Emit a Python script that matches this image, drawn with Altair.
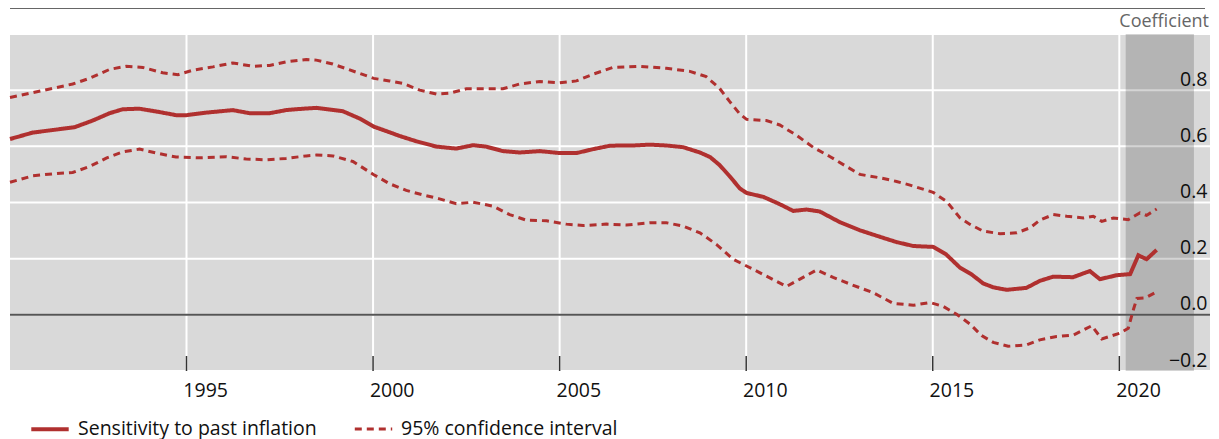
import altair as alt
import pandas as pd

# ---- data ----
mid_years = [1990.27, 1990.88, 1991.41, 1992.00, 1992.49, 1992.94, 1993.29, 1993.74, 1994.28, 1994.72,
             1995.00, 1995.53, 1996.24, 1996.69, 1997.23, 1997.67, 1998.03, 1998.48, 1999.19, 1999.64,
             2000.02, 2000.36, 2000.71, 2001.16, 2001.70, 2002.23, 2002.68, 2003.03, 2003.48, 2003.93,
             2004.47, 2005.00, 2005.45, 2005.90, 2006.34, 2006.61, 2006.97, 2007.42, 2007.86, 2008.31,
             2008.76, 2009.03, 2009.29, 2009.56, 2009.83, 2010.01, 2010.46, 2010.90, 2011.26, 2011.62,
             2011.97, 2012.51, 2013.05, 2013.58, 2014.03, 2014.48, 2015.01, 2015.36, 2015.73, 2016.04,
             2016.35, 2016.62, 2016.98, 2017.51, 2017.87, 2018.23, 2018.76, 2019.21, 2019.48, 2019.93,
             2020.29, 2020.51, 2020.73, 2021.00]
mid_vals = [0.626, 0.649, 0.658, 0.668, 0.692, 0.718, 0.732, 0.734, 0.722, 0.711,
            0.711, 0.720, 0.729, 0.718, 0.718, 0.729, 0.733, 0.737, 0.725, 0.699,
            0.670, 0.654, 0.637, 0.618, 0.599, 0.592, 0.604, 0.599, 0.583, 0.578,
            0.583, 0.576, 0.576, 0.590, 0.602, 0.603, 0.603, 0.606, 0.603, 0.597,
            0.578, 0.562, 0.533, 0.493, 0.450, 0.434, 0.420, 0.394, 0.370, 0.375,
            0.368, 0.330, 0.301, 0.278, 0.259, 0.245, 0.242, 0.215, 0.168, 0.144,
            0.112, 0.098, 0.089, 0.096, 0.121, 0.136, 0.134, 0.156, 0.127, 0.141,
            0.145, 0.212, 0.198, 0.231]

up_years = [1990.27, 1990.88, 1991.41, 1991.95, 1992.40, 1992.94, 1993.38, 1993.83, 1994.36, 1994.77,
            1995.17, 1995.71, 1996.24, 1996.78, 1997.23, 1997.67, 1998.21, 1998.48, 1998.92, 1999.55,
            2000.02, 2000.44, 2000.80, 2001.25, 2001.70, 2002.05, 2002.50, 2003.03, 2003.48, 2003.93,
            2004.47, 2005.00, 2005.45, 2005.90, 2006.43, 2007.15, 2007.86, 2008.49, 2008.93, 2009.29,
            2009.56, 2009.83, 2010.01, 2010.54, 2010.90, 2011.34, 2011.79, 2012.24, 2012.69, 2013.05,
            2013.58, 2014.03, 2014.39, 2015.01, 2015.37, 2015.73, 2016.00, 2016.35, 2016.80, 2017.25,
            2017.61, 2017.87, 2018.23, 2018.59, 2019.04, 2019.30, 2019.53, 2019.84, 2020.24, 2020.55,
            2020.73, 2021.00]
up_vals = [0.774, 0.791, 0.806, 0.822, 0.842, 0.874, 0.885, 0.881, 0.862, 0.855,
           0.871, 0.883, 0.897, 0.885, 0.888, 0.901, 0.909, 0.907, 0.893, 0.864,
           0.842, 0.833, 0.824, 0.800, 0.786, 0.789, 0.805, 0.805, 0.805, 0.822,
           0.831, 0.826, 0.833, 0.857, 0.881, 0.885, 0.878, 0.867, 0.848, 0.806,
           0.759, 0.715, 0.696, 0.692, 0.676, 0.640, 0.597, 0.564, 0.528, 0.500,
           0.488, 0.475, 0.462, 0.436, 0.404, 0.345, 0.322, 0.298, 0.289, 0.292,
           0.310, 0.337, 0.357, 0.351, 0.345, 0.351, 0.333, 0.345, 0.339, 0.363,
           0.354, 0.377]

lo_years = [1990.27, 1990.88, 1991.41, 1991.95, 1992.40, 1992.85, 1993.29, 1993.74, 1994.19, 1994.72,
            1995.35, 1996.06, 1996.60, 1997.14, 1997.67, 1998.21, 1998.48, 1998.92, 1999.46, 2000.02,
            2000.44, 2000.89, 2001.34, 2001.78, 2002.23, 2002.68, 2003.21, 2003.66, 2004.11, 2004.65,
            2005.18, 2005.63, 2006.25, 2006.79, 2007.42, 2007.86, 2008.31, 2008.76, 2009.20, 2009.65,
            2010.01, 2010.54, 2011.08, 2011.44, 2011.89, 2012.33, 2012.87, 2013.40, 2013.94, 2014.48,
            2014.92, 2015.28, 2015.64, 2016.00, 2016.31, 2016.62, 2017.02, 2017.52, 2017.87, 2018.32,
            2018.77, 2019.26, 2019.53, 2020.02, 2020.24, 2020.38, 2020.47, 2020.69, 2021.00]
lo_vals = [0.472, 0.495, 0.502, 0.507, 0.528, 0.558, 0.580, 0.590, 0.576, 0.562,
           0.559, 0.563, 0.555, 0.552, 0.557, 0.566, 0.569, 0.566, 0.546, 0.499,
           0.467, 0.443, 0.427, 0.413, 0.396, 0.401, 0.387, 0.357, 0.337, 0.335,
           0.323, 0.318, 0.323, 0.320, 0.328, 0.328, 0.316, 0.292, 0.251, 0.198,
           0.174, 0.138, 0.101, 0.127, 0.160, 0.133, 0.105, 0.079, 0.041, 0.034,
           0.044, 0.030, 0.002, -0.033, -0.074, -0.098, -0.112, -0.107, -0.089, -0.077,
           -0.072, -0.039, -0.086, -0.065, -0.048, 0.020, 0.058, 0.060, 0.082]

series_names = ["Sensitivity to past inflation", "95% confidence interval"]
shade_start = [2020.17]
shade_end = [2022.0]
x_ticks = [1995, 2000, 2005, 2010, 2015, 2020]
x_label_pos = [1995.5, 2000.5, 2005.5, 2010.5, 2015.5, 2020.5]   # labels sit mid-year
y_ticks = [-0.2, 0.0, 0.2, 0.4, 0.6, 0.8]
y_grid = [-0.2, 0.0, 0.2, 0.4, 0.6, 0.8, 1.0]
x_domain = [1990.27, 2022.43]
y_domain = [-0.2, 1.0]

RED = "#b0302f"
FONT = "Open Sans"
TXT = "#111111"
W, H = 1200, 337

rows = []
for yr, v in zip(mid_years, mid_vals):
    rows.append({"year": yr, "value": v, "series": series_names[0], "band": "mid"})
for yr, v in zip(up_years, up_vals):
    rows.append({"year": yr, "value": v, "series": series_names[1], "band": "upper"})
for yr, v in zip(lo_years, lo_vals):
    rows.append({"year": yr, "value": v, "series": series_names[1], "band": "lower"})
df = pd.DataFrame(rows)

xscale = alt.Scale(domain=x_domain, nice=False, zero=False)
yscale = alt.Scale(domain=y_domain, nice=False, zero=False)

x_axis = alt.Axis(values=x_label_pos, labelExpr="floor(datum.value)", title=None, domain=False,
                  grid=False, ticks=False, tickSize=0, labelPadding=10, labelBaseline="top",
                  labelFont=FONT, labelFontSize=19.5, labelColor=TXT)
y_axis = alt.Axis(values=y_ticks, format=".1f", title=None, orient="right", domain=False,
                  grid=False, ticks=False, tickSize=0, labelPadding=-3, labelAlign="right",
                  labelOffset=-5, labelBaseline="alphabetic",
                  labelFont=FONT, labelFontSize=19.5, labelColor=TXT)

ygrid = alt.Chart(pd.DataFrame({"g": y_grid})).mark_rule(color="white", strokeWidth=2).encode(
    y=alt.Y("g:Q", scale=yscale, axis=y_axis)
)
tick_df = pd.DataFrame({"t": x_ticks})
xgrid = alt.Chart(tick_df).mark_rule(color="white", strokeWidth=2).encode(
    x=alt.X("t:Q", scale=xscale, axis=x_axis)
)
xticks = alt.Chart(tick_df).mark_rule(color="#333333", strokeWidth=1.5).encode(
    x=alt.X("t:Q", scale=xscale), y=alt.value(H - 15), y2=alt.value(H)
)

shade_df = pd.DataFrame({"s": shade_start, "e": shade_end})
shade = alt.Chart(shade_df).mark_rect(color="black", opacity=0.17).encode(
    x=alt.X("s:Q", scale=xscale),
    x2="e:Q",
)

zero = alt.Chart(pd.DataFrame({"z": [0.0]})).mark_rule(color="#555555", strokeWidth=2).encode(
    y=alt.Y("z:Q", scale=yscale)
)

lines = alt.Chart(df).mark_line(color=RED, strokeCap="butt").encode(
    x=alt.X("year:Q", scale=xscale),
    y=alt.Y("value:Q", scale=yscale),
    detail="band:N",
    strokeDash=alt.StrokeDash(
        "series:N",
        scale=alt.Scale(domain=series_names, range=[[1, 0], [7, 5]]),
        legend=alt.Legend(title=None, orient="none", direction="horizontal",
                          legendX=19, legendY=374, symbolType="stroke",
                          symbolSize=1400, symbolStrokeWidth=4, symbolStrokeColor=RED,
                          labelFont=FONT, labelFontSize=19.5, labelColor=TXT,
                          labelOffset=7, columnPadding=31, padding=0,
                          labelLimit=400),
    ),
    strokeWidth=alt.StrokeWidth("series:N",
                                scale=alt.Scale(domain=series_names, range=[4, 3]),
                                legend=None),
)

top_rule = alt.Chart(pd.DataFrame({"a": [0]})).mark_rule(color="#333333", strokeWidth=1.5).encode(
    x=alt.value(0), x2=alt.value(1195), y=alt.value(-26)
)
coef = alt.Chart(pd.DataFrame({"t": ["Coefficient"]})).mark_text(
    align="right", baseline="middle", font=FONT, fontSize=18, color="#666666"
).encode(text="t:N", x=alt.value(1199), y=alt.value(-12))

chart = alt.layer(ygrid, xgrid, shade, xticks, zero, lines, top_rule, coef).properties(
    width=W, height=H,
    autosize=alt.AutoSizeParams(type="none"),
    padding={"left": 2, "top": 26, "right": 1, "bottom": 72},
).configure_view(fill="#d9d9d9", stroke=None)

chart.save("out.html", embed_options={"renderer": "svg", "actions": False})
